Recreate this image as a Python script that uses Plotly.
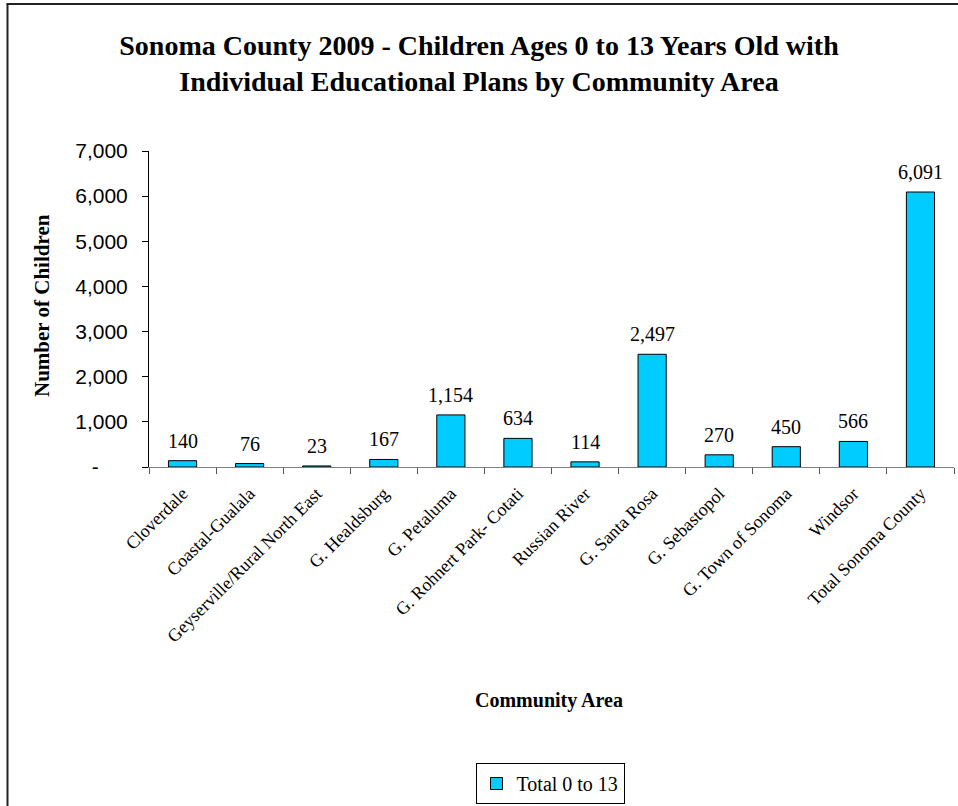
import plotly.graph_objects as go

categories = ["Cloverdale", "Coastal-Gualala", "Geyserville/Rural North East",
              "G. Healdsburg", "G. Petaluma", "G. Rohnert Park- Cotati",
              "Russian River", "G. Santa Rosa", "G. Sebastopol",
              "G. Town of Sonoma", "Windsor", "Total Sonoma County"]
values = [140, 76, 23, 167, 1154, 634, 114, 2497, 270, 450, 566, 6091]
series_name = "Total 0 to 13"
y_tickvals = [0, 1000, 2000, 3000, 4000, 5000, 6000, 7000]
y_ticktext = ["-\u00a0\u00a0\u00a0\u00a0\u00a0", "1,000", "2,000", "3,000", "4,000", "5,000", "6,000", "7,000"]

W, H = 958, 806
L, R, T, B = 149, 4, 151, 339
pw, ph = W - L - R, H - T - B

def px_x(x):
    return (x - L) / pw

def px_y(y):
    return (H - B - y) / ph

serif = "Liberation Serif, Times New Roman, serif"
sans = "Liberation Sans, Arial, sans-serif"

fig = go.Figure()
fig.add_trace(go.Bar(
    x=categories, y=values, name=series_name,
    marker=dict(color="#00CCFF", line=dict(color="#000000", width=1)),
    cliponaxis=False, showlegend=True,
))

value_labels = [
    dict(x=c, y=v, xref="x", yref="y", text=f"{v:,}", showarrow=False,
         xanchor="center", yanchor="bottom", yshift=7,
         font=dict(family=serif, size=20, color="#000000"))
    for c, v in zip(categories, values)
]

fig.update_layout(
    width=W, height=H, template="none",
    paper_bgcolor="white", plot_bgcolor="white",
    margin=dict(l=L, r=R, t=T, b=B, autoexpand=False),
    bargap=0.58,
    title=dict(text="<b>Sonoma County 2009 - Children Ages 0 to 13 Years Old with<br>Individual Educational Plans by Community Area</b>",
               x=0.5, xanchor="center", y=1 - 55 / H, yanchor="middle",
               font=dict(family=serif, size=28, color="#000000")),
    xaxis=dict(type="category", showgrid=False, zeroline=False,
               showline=True, linecolor="#808080", linewidth=1,
               ticks="outside", tickson="boundaries", ticklen=6, tickcolor="#555555",
               tickangle=-45, automargin=False, ticklabelstandoff=8,
               tickfont=dict(family=serif, size=18, color="#000000")),
    yaxis=dict(range=[0, 7000], tickvals=y_tickvals, ticktext=y_ticktext,
               showgrid=False, zeroline=False, showline=True, linecolor="#000000",
               linewidth=1, ticks="outside", ticklen=6, tickcolor="#000000",
               automargin=False, ticklabelstandoff=10,
               tickfont=dict(family=sans, size=21, color="#000000")),
    legend=dict(orientation="h", x=px_x(550), xanchor="center", y=px_y(763), yanchor="top",
                bordercolor="#000000", borderwidth=1, bgcolor="white",
                font=dict(family=serif, size=20, color="#000000")),
    annotations=value_labels + [
        dict(text="<b>Community Area</b>", xref="paper", yref="paper",
             x=px_x(549), y=px_y(700), xanchor="center", yanchor="middle", showarrow=False,
             font=dict(family=serif, size=20, color="#000000")),
        dict(text="<b>Number of Children</b>", xref="paper", yref="paper", textangle=-90,
             x=px_x(42), y=px_y(306), xanchor="center", yanchor="middle", showarrow=False,
             font=dict(family=serif, size=21, color="#000000")),
    ],
    shapes=[
        dict(type="line", xref="paper", yref="paper", x0=px_x(7.5), x1=px_x(7.5),
             y0=px_y(4), y1=px_y(H + 2), line=dict(color="#222222", width=2)),
        dict(type="line", xref="paper", yref="paper", x0=px_x(6.5), x1=px_x(W + 2),
             y0=px_y(4), y1=px_y(4), line=dict(color="#222222", width=2)),
    ],
)

fig.write_html("out.html")
